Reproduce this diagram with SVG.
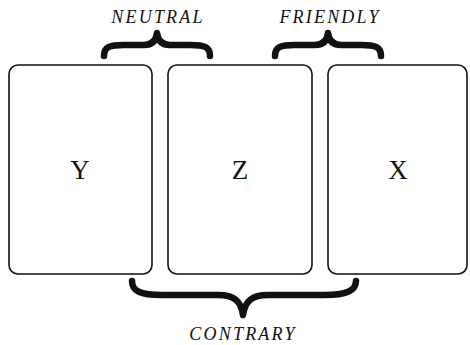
<svg xmlns="http://www.w3.org/2000/svg" width="470" height="345" viewBox="0 0 470 345">
<style>
.box{fill:#fff;stroke:#111;stroke-width:1.6}
.lbl{font-family:"Liberation Serif",serif;font-size:27px;fill:#111;text-anchor:middle}
.rel{font-family:"Liberation Serif",serif;font-style:italic;font-size:18px;letter-spacing:2.2px;fill:#111;text-anchor:middle}
.brace{fill:none;stroke:#111;stroke-width:6.5;stroke-linecap:round;stroke-linejoin:round}
</style>
<rect width="470" height="345" fill="#fff"/>
<g id="Y"><rect class="box" x="9" y="65" width="143" height="209" rx="9"/><text class="lbl" x="80" y="179">Y</text></g>
<g id="Z"><rect class="box" x="168" y="65" width="144" height="209" rx="9"/><text class="lbl" x="240" y="179">Z</text></g>
<g id="X"><rect class="box" x="328" y="65" width="139" height="209" rx="9"/><text class="lbl" x="398" y="179">X</text></g>
<g id="connectors">
<path class="brace" d="M104,56 C104,47 109,45 124,45 L144,45 C152,45 156,41 157,33 C158,41 162,45 170,45 L190,45 C205,45 210,47 210,56"/>
<path class="brace" d="M275,56 C275,47 280,45 295,45 L315,45 C323,45 327,41 328,33 C329,41 333,45 341,45 L361,45 C376,45 381,47 381,56"/>
<path class="brace" d="M132,281 C132,291 140,295 162,295 L218,295 C234,295 241,301 243,315 C245,301 252,295 268,295 L324,295 C346,295 356,291 356,281"/>
</g>
<text class="rel" x="158" y="23">NEUTRAL</text>
<text class="rel" x="330" y="23">FRIENDLY</text>
<text class="rel" x="243" y="340">CONTRARY</text>
</svg>
